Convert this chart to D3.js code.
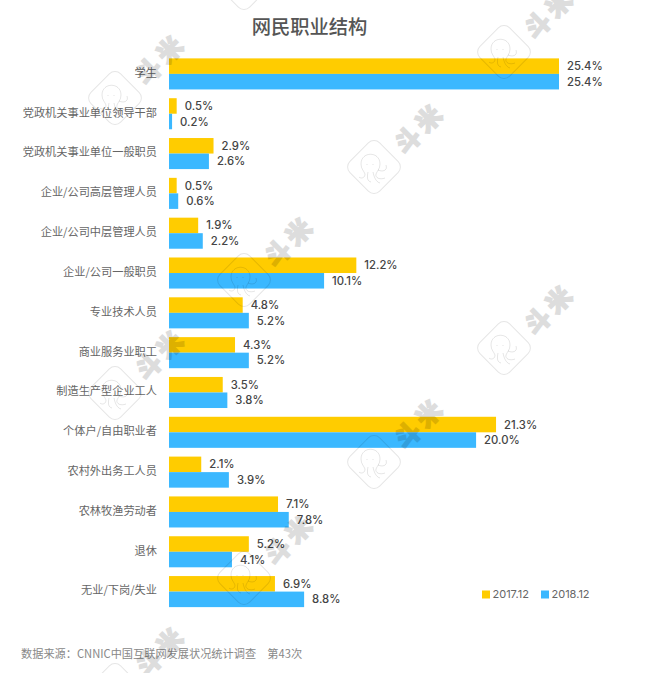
<!DOCTYPE html>
<html>
<head>
<meta charset="utf-8">
<script src="https://cdn.jsdelivr.net/npm/d3@7"></script>
<style>
  body { margin: 0; background: #fff; }
  svg { display: block; }
  text { font-family: "Noto Sans CJK SC", sans-serif; }
  .num { font-family: Inter, "Noto Sans CJK SC", sans-serif; }
</style>
</head>
<body>
<script>
var categories = ["学生", "党政机关事业单位领导干部", "党政机关事业单位一般职员", "企业/公司高层管理人员",
  "企业/公司中层管理人员", "企业/公司一般职员", "专业技术人员", "商业服务业职工", "制造生产型企业工人",
  "个体户/自由职业者", "农村外出务工人员", "农林牧渔劳动者", "退休", "无业/下岗/失业"];
var values2017 = [25.4, 0.5, 2.9, 0.5, 1.9, 12.2, 4.8, 4.3, 3.5, 21.3, 2.1, 7.1, 5.2, 6.9];
var values2018 = [25.4, 0.2, 2.6, 0.6, 2.2, 10.1, 5.2, 5.2, 3.8, 20.0, 3.9, 7.8, 4.1, 8.8];
var seriesNames = ["2017.12", "2018.12"];
var seriesColors = ["#FFCC00", "#3BB8FF"];

// watermark tiles, logo centre
var markPos = [[115, 98], [504, 52], [374, 167], [244, -17], [244, 280], [504, 348], [115, 393], [374, 462], [244, 578], [115, 690]];

var svg = d3.select("body").append("svg")
  .attr("width", 649)
  .attr("height", 673)

var x = d3.scaleLinear().domain([0, 25.4]).range([169, 559])
var y = d3.scaleBand().domain(categories).range([54, 611.5]).paddingInner(0.22).paddingOuter(0.11)
var inner = d3.scaleBand().domain(seriesNames).range([0, y.bandwidth()])

svg.append("text")
  .attr("x", 309.5)
  .attr("y", 27)
  .attr("dy", "0.36em")
  .attr("text-anchor", "middle")
  .attr("font-size", 19.3)
  .attr("font-weight", 500)
  .attr("fill", "#555")
  .text("网民职业结构")

// category labels
var axis = svg.append("g")
  .attr("transform", "translate(169,-0.7)")
  .call(d3.axisLeft(y).tickSize(0).tickPadding(12))
axis.select(".domain").remove()
axis.selectAll("text")
  .attr("font-size", 11.2)
  .attr("fill", "#666")
  .style("font-family", '"Noto Sans CJK SC", sans-serif')

function drawSeries(values, idx) {
  var name = seriesNames[idx]
  svg.append("g").selectAll("rect")
    .data(values)
    .join("rect")
    .attr("x", x(0))
    .attr("y", function(d, i) { return y(categories[i]) + inner(name) })
    .attr("width", function(d) { return x(d) - x(0) })
    .attr("height", inner.bandwidth())
    .attr("fill", seriesColors[idx])

  svg.append("g").selectAll("text")
    .data(values)
    .join("text")
    .attr("class", "num")
    .attr("x", function(d) { return x(d) + 8 })
    .attr("y", function(d, i) { return y(categories[i]) + inner(name) + inner.bandwidth() / 2 })
    .attr("dy", "0.36em")
    .attr("font-size", 11.3)
    .attr("font-weight", 500)
    .attr("fill", "#444")
    .text(function(d) { return d.toFixed(1) + "%" })
}
drawSeries(values2017, 0)
drawSeries(values2018, 1)

// legend
var legendX = [482, 541];
seriesNames.forEach(function(name, i) {
  svg.append("rect")
    .attr("x", legendX[i])
    .attr("y", 590.5)
    .attr("width", 8)
    .attr("height", 8)
    .attr("fill", seriesColors[i])
  svg.append("text")
    .attr("class", "num")
    .attr("x", legendX[i] + 10.5)
    .attr("y", 594)
    .attr("dy", "0.36em")
    .attr("font-size", 11)
    .attr("fill", "#666")
    .text(name)
})

svg.append("text")
  .attr("x", 21)
  .attr("y", 654)
  .attr("dy", "0.36em")
  .attr("font-size", 11.2)
  .attr("fill", "#888")
  .text("数据来源：CNNIC中国互联网发展状况统计调查　第43次")

// watermark on top of the bars
var marks = svg.append("g").selectAll("g")
  .data(markPos)
  .join("g")
  .attr("transform", function(d) { return "translate(" + d[0] + "," + d[1] + ")" })

marks.append("rect")
  .attr("x", -21)
  .attr("y", -21)
  .attr("width", 42)
  .attr("height", 42)
  .attr("rx", 8)
  .attr("transform", "rotate(45)")
  .attr("fill", "none")
  .attr("stroke", "#000")
  .attr("stroke-opacity", 0.1)

// octopus, head and legs
var octopus = ["M-13,-3 C-13,-16 6,-16 6,-3 C6,2 3,4 2,7 C1,11 6,13 11,11",
  "M-13,-3 C-13,2 -10,4 -9,7 C-9,11 -13,12 -15,10",
  "M-6,5 C-7,10 -7,14 -3,15",
  "M-1,5 C0,10 2,15 6,16",
  "M4,3 C8,5 14,4 12,-2 M-7,-3 L-7,-2 M-1,-3 L-1,-2"];
marks.selectAll("path")
  .data(octopus)
  .join("path")
  .attr("d", function(d) { return d })
  .attr("fill", "none")
  .attr("stroke", "#000")
  .attr("stroke-opacity", 0.1)

// the tile above the page has no visible word
marks.filter(function(d) { return d[1] > 0 }).append("text")
  .attr("transform", "translate(46,-39) rotate(-45)")
  .attr("text-anchor", "middle")
  .attr("dy", "0.36em")
  .attr("font-size", 25)
  .attr("font-weight", 900)
  .attr("letter-spacing", 5)
  .attr("stroke", "#000")
  .attr("stroke-width", 1.4)
  .attr("fill", "#000")
  .attr("opacity", 0.13)
  .text("斗米")
</script>
</body>
</html>
